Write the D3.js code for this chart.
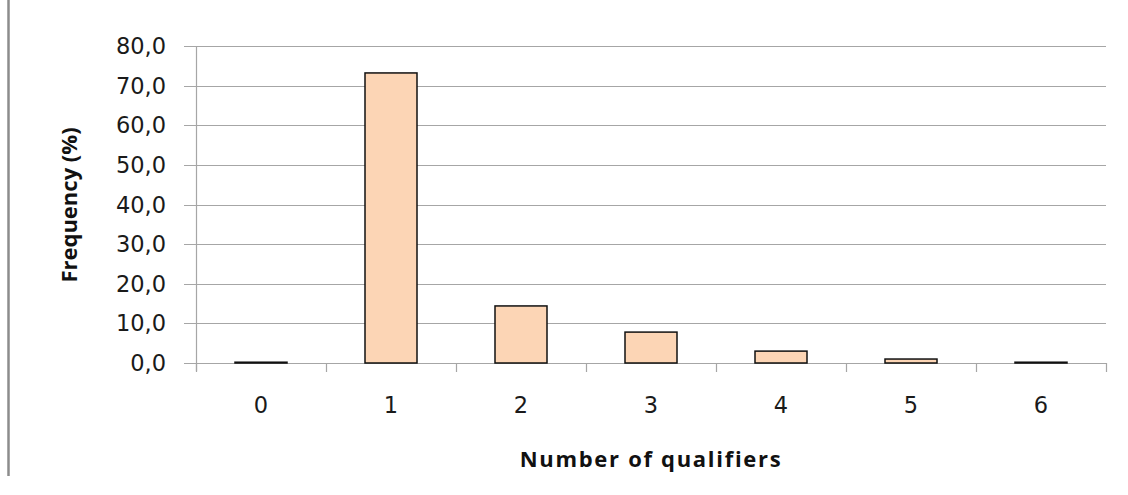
<!DOCTYPE html>
<html><head><meta charset="utf-8">
<script src="https://cdn.jsdelivr.net/npm/d3@7"></script>
<style>body{margin:0;background:#fff}svg{display:block}</style>
</head><body>
<script>
const categories = ["0","1","2","3","4","5","6"];
const frequency = [0.2, 73.2, 14.4, 7.8, 3.0, 1.0, 0.2];
const yTicks = [0,10,20,30,40,50,60,70,80];
const yTitle = "Frequency (%)";
const xTitle = "Number of qualifiers";

const W = 1128, H = 495;
const m = {left:196, right:22, top:46, bottom:132};
const svg = d3.select("body").append("svg").attr("width",W).attr("height",H);

// left border line
svg.append("line").attr("x1",8.5).attr("x2",8.5).attr("y1",0).attr("y2",476)
  .attr("stroke","#8c8c8c").attr("stroke-width",2.5);

const x = d3.scaleBand().domain(categories).range([m.left, W-m.right]).paddingInner(0.6).paddingOuter(0.3);
const xb = d3.scaleBand().domain(categories).range([m.left, W-m.right]);
const y = d3.scaleLinear().domain([0,80]).range([H-m.bottom, m.top]);

// gridlines
svg.append("g").selectAll("line").data(yTicks).join("line")
  .attr("x1",m.left-12).attr("x2",W-m.right)
  .attr("y1",d=>Math.round(y(d))+0.5).attr("y2",d=>Math.round(y(d))+0.5)
  .attr("stroke","#a6a6a6").attr("stroke-width",1.2);

// y labels
svg.append("g").selectAll("text").data(yTicks).join("text")
  .attr("x",m.left-30).attr("y",d=>y(d)).attr("dy","0.36em")
  .attr("text-anchor","end").attr("font-family","DejaVu Sans").attr("font-size",22.5).attr("fill","#1a1a1a")
  .text(d=>d3.format(".1f")(d).replace(".",","));

// y axis line
svg.append("line").attr("x1",m.left+0.5).attr("x2",m.left+0.5).attr("y1",m.top).attr("y2",y(0)+8)
  .attr("stroke","#a6a6a6").attr("stroke-width",1.2);

// x ticks
const edges = categories.map(c=>xb(c)).concat([W-m.right]);
svg.append("g").selectAll("line").data(edges).join("line")
  .attr("x1",d=>d+0.5).attr("x2",d=>d+0.5).attr("y1",y(0)).attr("y2",y(0)+9)
  .attr("stroke","#a6a6a6").attr("stroke-width",1.2);

// bars
svg.append("g").selectAll("rect").data(categories).join("rect")
  .attr("x",c=>x(c)).attr("width",x.bandwidth())
  .attr("y",(c,i)=>y(frequency[i])).attr("height",(c,i)=>y(0)-y(frequency[i]))
  .attr("fill","#fcd5b5").attr("stroke","#111").attr("stroke-width",1.5);

// x labels
svg.append("g").selectAll("text").data(categories).join("text")
  .attr("x",c=>xb(c)+xb.bandwidth()/2).attr("y",y(0)+50)
  .attr("text-anchor","middle").attr("font-family","DejaVu Sans").attr("font-size",22.5).attr("fill","#1a1a1a")
  .text(c=>c);

// titles
svg.append("text").attr("x",651).attr("y",467).attr("text-anchor","middle")
  .attr("font-family","Open Sans").attr("font-weight","bold").attr("font-size",22).attr("letter-spacing",1.7).attr("fill","#111")
  .text(xTitle);
svg.append("text").attr("transform","translate(77,205) rotate(-90)").attr("text-anchor","middle")
  .attr("font-family","Open Sans").attr("font-weight","bold").attr("font-size",22).attr("fill","#111")
  .text(yTitle);
</script>
</body></html>
